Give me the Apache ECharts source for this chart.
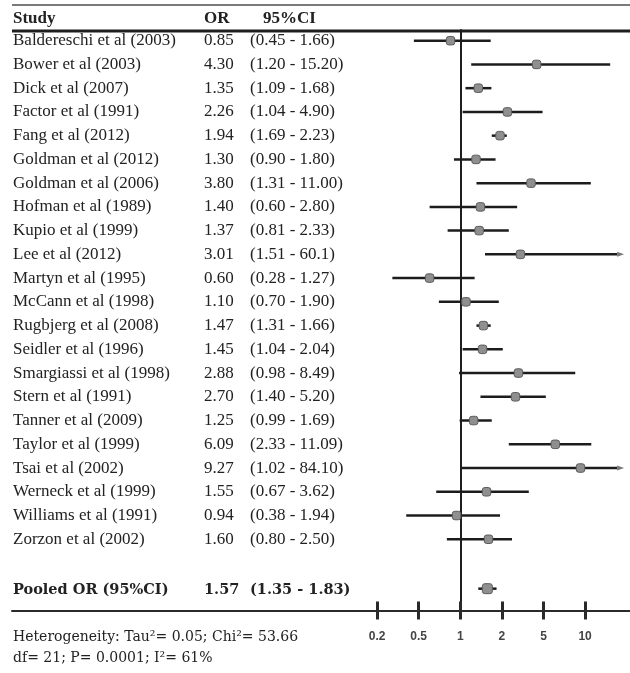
<!DOCTYPE html>
<html>
<head>
<meta charset="utf-8">
<script src="https://cdn.jsdelivr.net/npm/echarts@6/dist/echarts.min.js"></script>
<style>
  html, body { margin: 0; padding: 0; background: #fff; }
  #chart { width: 630px; height: 673px; }
</style>
</head>
<body>
<div id="chart"></div>
<script>
// Study-level odds ratios with 95% confidence intervals
const studies = [
  'Baldereschi et al (2003)', 'Bower et al (2003)', 'Dick et al (2007)', 'Factor et al (1991)',
  'Fang et al (2012)', 'Goldman et al (2012)', 'Goldman et al (2006)', 'Hofman et al (1989)',
  'Kupio et al (1999)', 'Lee et al (2012)', 'Martyn et al (1995)', 'McCann et al (1998)',
  'Rugbjerg et al (2008)', 'Seidler et al (1996)', 'Smargiassi et al (1998)', 'Stern et al (1991)',
  'Tanner et al (2009)', 'Taylor et al (1999)', 'Tsai et al (2002)', 'Werneck et al (1999)',
  'Williams et al (1991)', 'Zorzon et al (2002)'
];
const oddsRatios = ['0.85', '4.30', '1.35', '2.26', '1.94', '1.30', '3.80', '1.40', '1.37', '3.01', '0.60',
  '1.10', '1.47', '1.45', '2.88', '2.70', '1.25', '6.09', '9.27', '1.55', '0.94', '1.60'];
const ciLower = ['0.45', '1.20', '1.09', '1.04', '1.69', '0.90', '1.31', '0.60', '0.81', '1.51', '0.28',
  '0.70', '1.31', '1.04', '0.98', '1.40', '0.99', '2.33', '1.02', '0.67', '0.38', '0.80'];
const ciUpper = ['1.66', '15.20', '1.68', '4.90', '2.23', '1.80', '11.00', '2.80', '2.33', '60.1', '1.27',
  '1.90', '1.66', '2.04', '8.49', '5.20', '1.69', '11.09', '84.10', '3.62', '1.94', '2.50'];

// Pooled estimate
const pooledLabel = 'Pooled OR (95%CI)';
const pooledOR = '1.57';
const pooledLower = '1.35';
const pooledUpper = '1.83';

// Axis ladder (equally spaced ticks)
const tickValues = [0.2, 0.5, 1, 2, 5, 10];

const headerLabels = ['Study', 'OR', '95%CI'];
const heterogeneityLines = [
  'Heterogeneity: Tau\u00B2= 0.05; Chi\u00B2= 53.66',
  'df= 21; P= 0.0001; I\u00B2= 61%'
];

// Position of a ratio along the tick ladder: log-interpolated between neighbouring ticks,
// with OR = 1 at zero so the y axis line marks the line of no effect.
function ladderPos(v) {
  const t = tickValues;
  let i = 0;
  while (i < t.length - 2 && v > t[i + 1]) i++;
  return i + Math.log(v / t[i]) / Math.log(t[i + 1] / t[i]) - t.indexOf(1);
}

const tickPositions = tickValues.map(ladderPos);
const X_MIN = -2.17, X_MAX = 4.08, X_CLIP = 3.77;
const POOLED_ROW = studies.length + 1.15;
const Y_MIN = -0.45, Y_MAX = 24;

const forestData = studies.map((s, i) => [
  ladderPos(+oddsRatios[i]), i, ladderPos(+ciLower[i]), ladderPos(+ciUpper[i])
]);
forestData.push([ladderPos(+pooledOR), POOLED_ROW - 0.07, ladderPos(+pooledLower), ladderPos(+pooledUpper)]);

const tableRows = studies.map((s, i) => [i, s, oddsRatios[i], '(' + ciLower[i] + ' - ' + ciUpper[i] + ')', 0]);
tableRows.push([POOLED_ROW, pooledLabel, pooledOR, '(' + pooledLower + ' - ' + pooledUpper + ')', 1]);

const TEXT = '#222';
// column offsets inside the table grid (grid starts at x = 12)
const COLS = [1, 192, 238];
const HEADER_X = [13, 204, 263];

const chart = echarts.init(document.getElementById('chart'), null, { renderer: 'canvas' });

chart.setOption({
  backgroundColor: '#fff',
  animation: false,
  grid: [
    { left: 12, top: 30, width: 358, bottom: 62.5 },
    { left: 370, top: 30, right: 0, bottom: 62.5 }
  ],
  xAxis: [
    {
      gridIndex: 0, type: 'value', min: 0, max: 358,
      axisLine: { show: true, onZero: false, lineStyle: { color: '#2a2a2a', width: 2 } },
      axisTick: { show: false }, axisLabel: { show: false }, splitLine: { show: false }
    },
    {
      gridIndex: 1, type: 'value', min: X_MIN, max: X_MAX, position: 'bottom',
      axisLine: { show: true, onZero: false, lineStyle: { color: '#2a2a2a', width: 2 } },
      axisTick: { show: true, customValues: tickPositions, length: 9, lineStyle: { color: '#2a2a2a', width: 3 } },
      axisLabel: {
        show: true, customValues: tickPositions, margin: 20,
        formatter: v => {
          const k = tickPositions.findIndex(p => Math.abs(p - v) < 1e-6);
          return k >= 0 ? String(tickValues[k]) : '';
        },
        color: '#444', fontSize: 12, fontWeight: 'bold', fontFamily: 'Liberation Sans'
      },
      splitLine: { show: false }
    },
    {
      // inner half of the tick marks, so each tick crosses the axis line
      gridIndex: 1, type: 'value', min: X_MIN, max: X_MAX, position: 'bottom',
      axisLine: { show: false, onZero: false },
      axisTick: { show: true, inside: true, customValues: tickPositions, length: 9, lineStyle: { color: '#2a2a2a', width: 3 } },
      axisLabel: { show: false }, splitLine: { show: false }
    }
  ],
  yAxis: [
    {
      gridIndex: 0, type: 'value', inverse: true, min: Y_MIN, max: Y_MAX,
      axisLine: { show: false }, axisTick: { show: false }, axisLabel: { show: false }, splitLine: { show: false }
    },
    {
      gridIndex: 1, type: 'value', inverse: true, min: Y_MIN, max: Y_MAX,
      axisLine: { show: true, onZero: true, lineStyle: { color: '#1e1e1e', width: 2 } },
      axisTick: { show: false }, axisLabel: { show: false }, splitLine: { show: false }
    }
  ],
  series: [
    {
      // study table: name, OR and confidence interval columns
      type: 'custom',
      xAxisIndex: 0, yAxisIndex: 0,
      data: tableRows,
      encode: { y: 0 },
      silent: true,
      renderItem: (params, api) => {
        const row = tableRows[params.dataIndex];
        const bold = row[4] === 1;
        const font = bold ? 'bold 14.5px "DejaVu Serif"' : '17px "Liberation Serif"';
        return {
          type: 'group',
          children: [1, 2, 3].map((c, k) => {
            const p = api.coord([COLS[k], row[0]]);
            return {
              type: 'text',
              style: { text: row[c], x: p[0], y: p[1], font, fill: TEXT, textAlign: 'left', textVerticalAlign: 'middle' }
            };
          })
        };
      }
    },
    {
      // confidence interval lines and point estimates
      type: 'custom',
      xAxisIndex: 1, yAxisIndex: 1,
      data: forestData,
      encode: { x: [0, 2, 3], y: 1 },
      silent: true,
      z: 5,
      renderItem: (params, api) => {
        const y = api.value(1);
        const hi = api.value(3);
        const clipped = hi > X_CLIP;
        const pL = api.coord([api.value(2), y]);
        const pH = api.coord([Math.min(hi, X_CLIP), y]);
        const pC = api.coord([api.value(0), y]);
        const s = params.dataIndex === studies.length ? 10 : 8.5;
        const children = [
          { type: 'line', shape: { x1: pL[0], y1: pL[1], x2: pH[0], y2: pH[1] }, style: { stroke: '#1c1c1c', lineWidth: 2.5 } },
          { type: 'rect', shape: { x: pC[0] - s / 2, y: pC[1] - s / 2, width: s, height: s, r: 2.5 },
            style: { fill: '#8f8f8f', stroke: '#5c5c5c', lineWidth: 1 } }
        ];
        if (clipped) {
          children.push({
            type: 'polygon',
            shape: { points: [[pH[0], pH[1] - 2.5], [pH[0] + 7, pH[1]], [pH[0], pH[1] + 2.5]] },
            style: { fill: '#777' }
          });
        }
        return { type: 'group', children };
      }
    }
  ],
  graphic: [
    { type: 'line', shape: { x1: 12, y1: 5, x2: 630, y2: 5 }, style: { stroke: '#7a7a7a', lineWidth: 2 } },
    { type: 'line', shape: { x1: 12, y1: 31, x2: 630, y2: 31 }, style: { stroke: '#1e1e1e', lineWidth: 3 } }
  ].concat(headerLabels.map((t, k) => ({
    type: 'text',
    style: { text: t, x: HEADER_X[k], y: 19, font: 'bold 17px "Liberation Serif"', fill: TEXT, textVerticalAlign: 'middle' }
  }))).concat(heterogeneityLines.map((t, k) => ({
    type: 'text',
    style: { text: t, x: 13, y: 637 + k * 21, font: '14px "DejaVu Serif"', fill: TEXT, textVerticalAlign: 'middle' }
  })))
});
</script>
</body>
</html>
